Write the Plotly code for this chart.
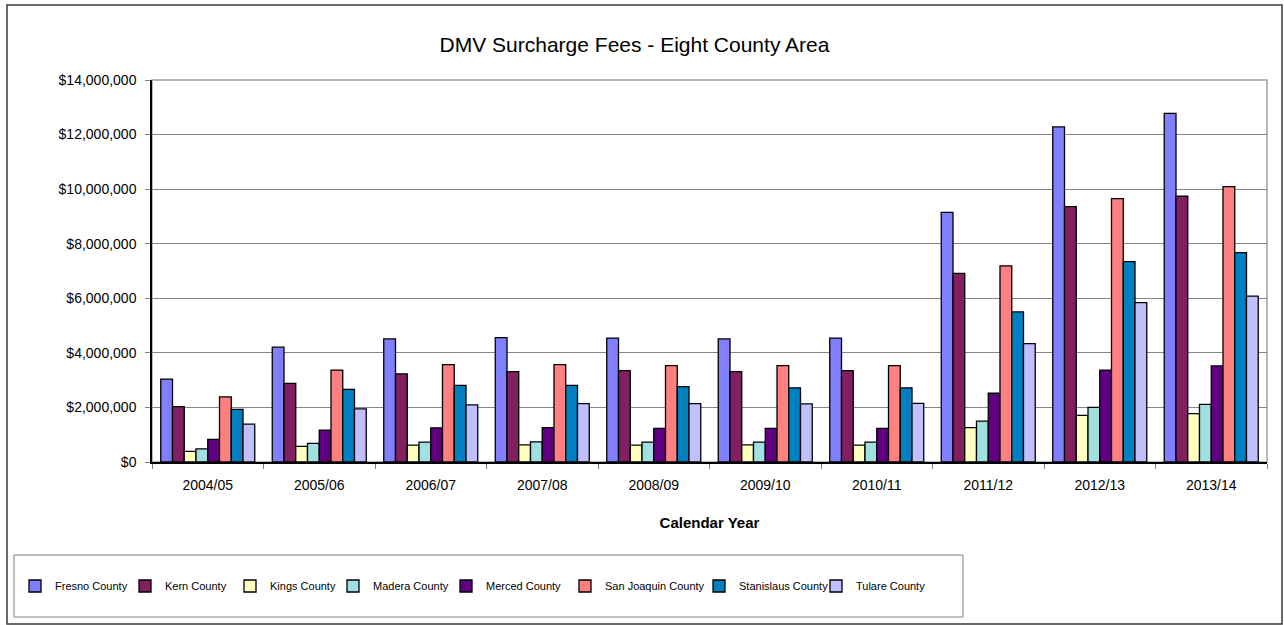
import plotly.graph_objects as go

years = ["2004/05", "2005/06", "2006/07", "2007/08", "2008/09",
         "2009/10", "2010/11", "2011/12", "2012/13", "2013/14"]

fresno      = [3040000, 4210000, 4510000, 4560000, 4540000, 4510000, 4540000, 9150000, 12280000, 12780000]
kern        = [2030000, 2880000, 3230000, 3310000, 3350000, 3310000, 3350000, 6910000, 9360000, 9740000]
kings       = [390000, 570000, 620000, 630000, 620000, 630000, 620000, 1260000, 1710000, 1770000]
madera      = [480000, 680000, 730000, 740000, 730000, 730000, 730000, 1500000, 2000000, 2110000]
merced      = [830000, 1170000, 1250000, 1260000, 1230000, 1230000, 1230000, 2520000, 3370000, 3520000]
san_joaquin = [2390000, 3370000, 3570000, 3570000, 3530000, 3530000, 3530000, 7190000, 9650000, 10090000]
stanislaus  = [1930000, 2660000, 2810000, 2810000, 2760000, 2720000, 2720000, 5500000, 7340000, 7670000]
tulare      = [1390000, 1950000, 2090000, 2140000, 2140000, 2130000, 2150000, 4340000, 5840000, 6080000]

series_names = ["Fresno County", "Kern County", "Kings County", "Madera County",
                "Merced County", "San Joaquin County", "Stanislaus County", "Tulare County"]
series_values = [fresno, kern, kings, madera, merced, san_joaquin, stanislaus, tulare]
colors = ["#8080FF", "#802060", "#FFFFC0", "#A0E0E0", "#600080", "#FF8080", "#0080C0", "#C0C0FF"]
legend_widths = [65, 60, 58, 68, 74, 89, 72, 70]

FONT = "Liberation Sans, Arial, sans-serif"

fig = go.Figure()
for name, vals, col, lw in zip(series_names, series_values, colors, legend_widths):
    fig.add_trace(go.Bar(
        x=years, y=vals, name=name,
        marker=dict(color=col, line=dict(color="#000000", width=1.3)),
        legendwidth=lw,
    ))

L, R, T, B = 152, 17, 80, 163
W, H = 1284, 625
pw = W - L - R
ph = H - T - B

def px(x):
    return (x - L) / pw

def py(y):
    return (H - B - y) / ph

fig.update_layout(
    width=W, height=H,
    margin=dict(l=L, r=R, t=T, b=B, autoexpand=False),
    paper_bgcolor="white", plot_bgcolor="white",
    barmode="group", bargap=0.157, bargroupgap=0,
    font=dict(family=FONT, color="#000000"),
    title=dict(text="DMV Surcharge Fees - Eight County Area",
               font=dict(family=FONT, size=21, color="#000000"),
               x=px(634.5), xref="paper", xanchor="center",
               y=1 - 45 / H, yref="container", yanchor="middle"),
    xaxis=dict(
        showline=True, linecolor="#000000", linewidth=1.5,
        ticks="outside", tickson="boundaries", ticklen=5, tickcolor="#808080",
        tickfont=dict(family=FONT, size=14, color="#000000"),
        showgrid=False, ticklabelstandoff=9,
        title=dict(text="<b>Calendar Year</b>", font=dict(family=FONT, size=15, color="#000000"),
                   standoff=26),
    ),
    yaxis=dict(
        range=[0, 14000000], dtick=2000000, tickformat="$,.0f",
        showline=True, linecolor="#000000", linewidth=1.5,
        ticks="outside", ticklen=5, tickcolor="#808080",
        tickfont=dict(family=FONT, size=14, color="#000000"),
        showgrid=True, gridcolor="#868686", gridwidth=1,
        zeroline=False, ticklabelstandoff=6,
    ),
    legend=dict(
        orientation="h", x=px(15), xanchor="left", y=py(586), yanchor="middle",
        font=dict(family=FONT, size=11, color="#000000"),
        bgcolor="rgba(0,0,0,0)", itemwidth=30, traceorder="normal",
    ),
    shapes=[
        dict(type="rect", xref="paper", yref="paper", x0=0, x1=1, y0=0, y1=1,
             line=dict(color="#A0A0A0", width=1.5), layer="below"),
        dict(type="rect", xref="paper", yref="paper",
             x0=px(14), x1=px(963), y0=py(555), y1=py(617),
             line=dict(color="#808080", width=1), layer="below"),
        dict(type="rect", xref="paper", yref="paper",
             x0=px(7), x1=px(1282), y0=py(5), y1=py(624),
             line=dict(color="#3A3A3A", width=1.5), layer="below"),
    ],
)

fig.write_html("out.html", config={"displayModeBar": False},
               post_script="document.body.style.margin='0';document.body.style.overflow='hidden';")
